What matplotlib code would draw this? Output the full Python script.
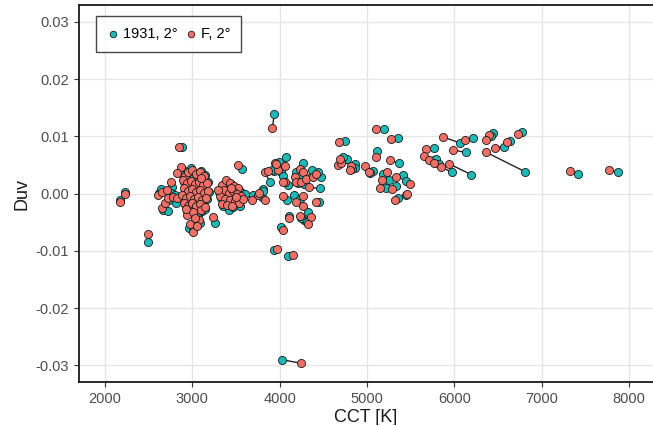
"""Duv vs CCT for two colour matching functions (1931 2deg vs F 2deg)"""

import matplotlib
matplotlib.use("Agg")
import matplotlib.pyplot as plt

# each index is one source: CCT / Duv computed with the 1931 and the F observer
cct_1931 = [
    2230, 2170, 2495, 3937, 4029, 3930, 4097, 2880, 3570, 4746,
    5195, 5360, 6070, 6214, 6444, 6420, 6633, 6568, 6776, 6813,
    6196, 5977, 7415, 7873, 6130, 5764, 5767, 5795, 5830,
    5119, 5367, 4771, 4868, 4860, 4830, 5069, 5040, 5183, 5252,
    5412, 5443, 5222, 5329, 5443, 5355, 4720,
    3888, 3937, 4021, 4071, 4040, 3810, 3800, 4097, 4193, 4262,
    4223, 4210, 4275, 4365, 4471, 4437, 4460, 4166, 4086, 4231,
    4326, 4280, 4250, 4315, 4452, 4107, 4021, 3918, 3990, 3697,
    3810, 3258,
    # 2600 - 3200 K cluster
    2895, 2890, 2762, 2615, 2640, 2755, 2670, 2720, 2735, 2810,
    2800, 2935, 2975, 2985, 3055, 3100, 3145, 2905, 2950, 3000,
    3040, 3090, 3135, 3180, 2920, 2960, 3010, 3050, 3095, 3150,
    3190, 2895, 2940, 2985, 3030, 3075, 3120, 3170, 2915, 2960,
    3010, 3050, 3100, 2950, 3015, 3065, 2960, 3010, 3090, 3040,
    2935, 3110, 3150, 3110,
    # 3200 - 3600 K cluster
    3350, 3400, 3445, 3490, 3535, 3375, 3430, 3480, 3525, 3570,
    3330, 3385, 3445, 3500, 3545, 3600, 3350, 3420, 3465, 3510,
    3305, 3455,
]
duv_1931 = [
    0.0002, -0.0011, -0.0084, 0.0139, -0.0290, -0.0098, -0.0109, 0.0082, 0.0043, 0.0092,
    0.0113, 0.0097, 0.0088, 0.0097, 0.0105, 0.0100, 0.0092, 0.0082, 0.0107, 0.0038,
    0.0033, 0.0037, 0.0035, 0.0037, 0.0072, 0.0079, 0.0059, 0.0060, 0.0052,
    0.0075, 0.0053, 0.0061, 0.0052, 0.0045, 0.0043, 0.0040, 0.0036, 0.0034, 0.0024,
    0.0033, 0.0022, 0.0009, 0.0013, -0.0002, -0.0008, 0.0064,
    0.0021, 0.0040, 0.0038, 0.0064, 0.0031, 0.0008, -0.0006, 0.0015, 0.0037, 0.0053,
    0.0031, 0.0018, 0.0017, 0.0041, 0.0029, 0.0038, 0.0009, -0.0002, -0.0012, -0.0009,
    -0.0033, -0.0046, -0.0043, -0.0050, -0.0014, -0.0039, -0.0059, 0.0041, 0.0056, -0.0002,
    0.0005, -0.0051,
    0.0042, 0.0033, 0.0012, 0.0001, 0.0008, 0.0001, -0.0029, -0.0031, -0.0012, -0.0017,
    -0.0003, 0.0034, 0.0040, 0.0045, 0.0035, 0.0039, 0.0033, 0.0021, 0.0015, 0.0025,
    0.0020, 0.0018, 0.0012, 0.0020, 0.0007, 0.0001, 0.0005, 0.0000, 0.0003, -0.0002,
    0.0002, -0.0005, -0.0011, -0.0007, -0.0013, -0.0009, -0.0014, -0.0010, -0.0019, -0.0025,
    -0.0020, -0.0025, -0.0022, -0.0030, -0.0035, -0.0037, -0.0060, -0.0062, -0.0052, -0.0045,
    -0.0030, -0.0031, -0.0027, 0.0024,
    0.0012, 0.0021, 0.0016, 0.0010, 0.0007, 0.0003, -0.0002, 0.0002, -0.0004, 0.0001,
    -0.0007, -0.0012, -0.0014, -0.0016, -0.0022, -0.0001, -0.0021, -0.0029, -0.0024, -0.0009,
    0.0003, 0.0007,
]
cct_F = [
    2235, 2170, 2495, 3918, 4239, 3965, 4148, 2850, 3518, 4677,
    5098, 5272, 5870, 6127, 6393, 6366, 6607, 6462, 6726, 6366,
    5939, 5850, 7320, 7770, 5985, 5680, 5652, 5710, 5767,
    5108, 5260, 4668, 4708, 4814, 4803, 4974, 5023, 5229, 5172,
    5337, 5489, 5146, 5291, 5463, 5326, 4690,
    3830, 3945, 3983, 4059, 4059, 3830, 3750, 4040, 4174, 4231,
    4269, 4185, 4250, 4307, 4383, 4411, 4337, 4269, 4040, 4185,
    4262, 4357, 4231, 4326, 4414, 4104, 4040, 3868, 3964, 3685,
    3765, 3239,
    2870, 2824, 2755, 2606, 2652, 2709, 2652, 2686, 2721, 2778,
    2824, 2915, 2950, 2996, 3041, 3087, 3133, 2892, 2938, 2984,
    3030, 3075, 3121, 3167, 2904, 2950, 2996, 3041, 3087, 3133,
    3178, 2881, 2927, 2972, 3018, 3064, 3110, 3155, 2904, 2950,
    2996, 3041, 3087, 2938, 3007, 3075, 2972, 3007, 3053, 3030,
    2927, 3098, 3144, 3098,
    3338, 3384, 3430, 3476, 3521, 3361, 3419, 3464, 3510, 3556,
    3316, 3373, 3430, 3487, 3533, 3579, 3338, 3396, 3453, 3499,
    3293, 3441,
]
duv_F = [
    -0.0001, -0.0014, -0.0071, 0.0114, -0.0296, -0.0097, -0.0108, 0.0081, 0.0050, 0.0090,
    0.0113, 0.0095, 0.0099, 0.0093, 0.0102, 0.0094, 0.0090, 0.0080, 0.0104, 0.0072,
    0.0052, 0.0046, 0.0040, 0.0041, 0.0076, 0.0077, 0.0065, 0.0059, 0.0053,
    0.0063, 0.0058, 0.0050, 0.0053, 0.0049, 0.0041, 0.0049, 0.0038, 0.0037, 0.0024,
    0.0029, 0.0017, 0.0009, 0.0008, -0.0001, -0.0011, 0.0061,
    0.0037, 0.0053, 0.0041, 0.0049, 0.0021, -0.0011, -0.0002, 0.0020, 0.0029, 0.0043,
    0.0038, 0.0021, 0.0021, 0.0025, 0.0029, 0.0034, 0.0011, -0.0005, -0.0005, -0.0014,
    -0.0021, -0.0040, -0.0039, -0.0053, -0.0014, -0.0043, -0.0063, 0.0040, 0.0051, -0.0011,
    0.0001, -0.0040,
    0.0047, 0.0036, 0.0020, -0.0002, 0.0003, 0.0006, -0.0025, -0.0016, -0.0008, -0.0006,
    -0.0008, 0.0031, 0.0038, 0.0041, 0.0034, 0.0038, 0.0031, 0.0024, 0.0019, 0.0022,
    0.0017, 0.0020, 0.0015, 0.0019, 0.0010, 0.0005, 0.0008, 0.0003, 0.0006, 0.0001,
    0.0005, -0.0002, -0.0008, -0.0004, -0.0009, -0.0006, -0.0011, -0.0008, -0.0016, -0.0021,
    -0.0016, -0.0021, -0.0018, -0.0037, -0.0032, -0.0046, -0.0053, -0.0067, -0.0056, -0.0042,
    -0.0027, -0.0028, -0.0023, 0.0027,
    0.0015, 0.0024, 0.0019, 0.0013, 0.0010, 0.0006, 0.0001, 0.0005, -0.0001, -0.0004,
    -0.0004, -0.0009, -0.0011, -0.0013, -0.0016, -0.0009, -0.0018, -0.0020, -0.0021, -0.0006,
    0.0006, 0.0010,
]

x_ticks = [2000, 3000, 4000, 5000, 6000, 7000, 8000]
y_ticks = [-0.03, -0.02, -0.01, 0.00, 0.01, 0.02, 0.03]

col_1931 = "#1DB9B6"
col_F = "#F26F66"

plt.rcParams["font.family"] = ["Liberation Sans", "DejaVu Sans"]

fig = plt.figure(figsize=(6.53, 4.25), dpi=100)
ax = fig.add_axes([0.121, 0.101, 0.879, 0.887])

# connecting segments first, then the two observers on top
for x0, y0, x1, y1 in zip(cct_1931, duv_1931, cct_F, duv_F):
    ax.plot([x0, x1], [y0, y1], color="#222222", linewidth=1.0, zorder=2)

ax.scatter(cct_1931, duv_1931, s=34, color=col_1931, edgecolors="#1a1a1a",
           linewidths=0.6, zorder=3, label="1931, 2°")
ax.scatter(cct_F, duv_F, s=34, color=col_F, edgecolors="#1a1a1a",
           linewidths=0.6, zorder=4, label="F, 2°")

ax.set_xlim(1703, 8275)
ax.set_ylim(-0.0329, 0.0329)
ax.set_xticks(x_ticks)
ax.set_yticks(y_ticks)
ax.set_xticklabels([str(t) for t in x_ticks])
ax.set_yticklabels(["%.2f" % t for t in y_ticks])

ax.grid(True, color="#e6e6e6", linewidth=1.0, zorder=0)
ax.set_axisbelow(True)

for side in ["left", "bottom", "top"]:
    ax.spines[side].set_color("#1a1a1a")
    ax.spines[side].set_linewidth(1.3)
ax.spines["right"].set_visible(False)

ax.tick_params(axis="both", direction="out", length=3.5, width=0.8,
               color="#333333", labelcolor="#4d4d4d", labelsize=10.5)

ax.set_xlabel("CCT [K]", fontsize=13, color="#1a1a1a", labelpad=2)
ax.set_ylabel("Duv", fontsize=13, color="#1a1a1a", labelpad=4)

leg = ax.legend(loc="upper left", bbox_to_anchor=(0.0296, 0.971), ncol=2,
                frameon=True, fancybox=False, fontsize=10.5, handletextpad=0.3,
                handlelength=0.8, columnspacing=0.5, borderpad=0.75,
                borderaxespad=0, markerscale=0.8)
leg.get_frame().set_edgecolor("#1a1a1a")
leg.get_frame().set_linewidth(1.0)

fig.savefig("out.png", dpi=100)
